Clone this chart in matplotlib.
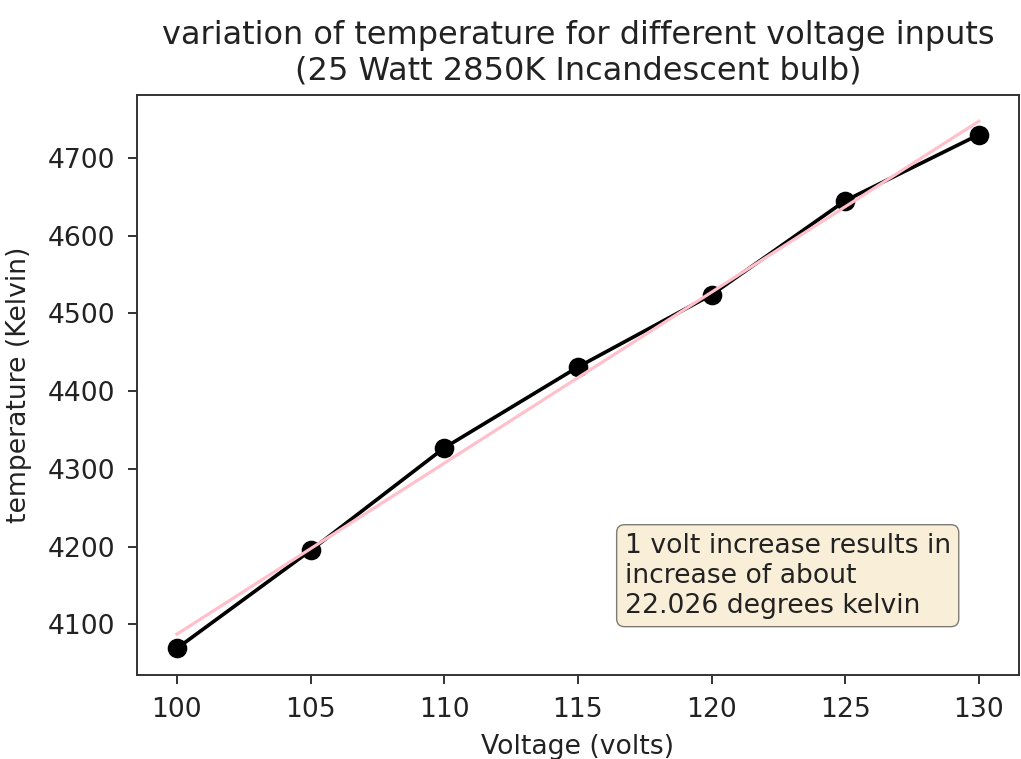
import numpy as np
import matplotlib

matplotlib.use("Agg")
import matplotlib.pyplot as plt  # noqa: E402

voltage = [100, 105, 110, 115, 120, 125, 130]
temperature = [4069, 4195, 4327, 4431, 4524, 4645, 4730]

SCALE = 1.75  # original was a small notebook render, upscaled
TXT = 1.92

slope, intercept = np.polyfit(voltage, temperature, 1)
fit = [slope * v + intercept for v in voltage]

plt.rcParams["font.size"] = 10 * TXT
plt.rcParams["text.color"] = "#222222"
plt.rcParams["axes.labelcolor"] = "#222222"
plt.rcParams["xtick.labelcolor"] = "#222222"
plt.rcParams["ytick.labelcolor"] = "#222222"

fig, ax = plt.subplots(figsize=(10.21, 7.59), dpi=100)
fig.subplots_adjust(left=0.134, right=0.998, top=0.875, bottom=0.111)

ax.plot(voltage, temperature, marker="o", color="black", linewidth=1.5 * SCALE, markersize=7.5 * SCALE)
ax.plot(voltage, fit, color="pink", linewidth=1.3 * SCALE)

ax.set_title("variation of temperature for different voltage inputs\n(25 Watt 2850K Incandescent bulb)",
             fontsize=12 * TXT, pad=11)
ax.set_xlabel("Voltage (volts)", labelpad=8)
ax.set_ylabel("temperature (Kelvin)", labelpad=11)

ax.text(0.553, 0.245, "1 volt increase results in\nincrease of about\n22.026 degrees kelvin",
        transform=ax.transAxes, va="top", ha="left",
        bbox=dict(boxstyle="round", facecolor="wheat", alpha=0.5))

for spine in ax.spines.values():
    spine.set_linewidth(0.8 * SCALE)
    spine.set_color("#333333")
ax.tick_params(width=0.8 * SCALE, length=3.5 * SCALE * 1.1, pad=9, color="#333333")

fig.savefig("out.png", dpi=100)
